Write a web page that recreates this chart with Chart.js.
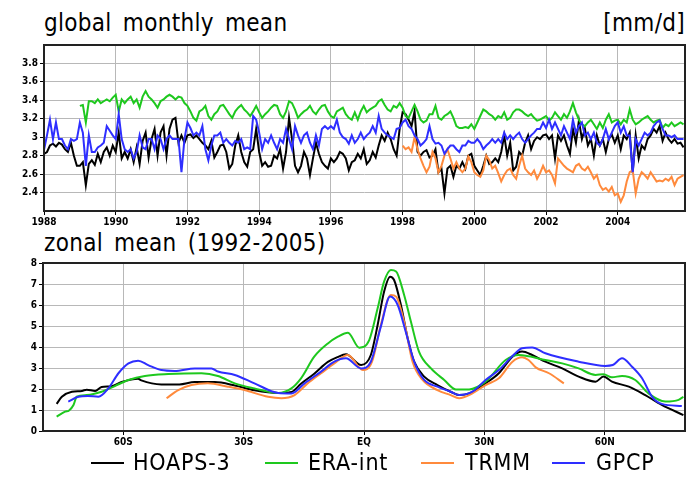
<!DOCTYPE html>
<html><head><meta charset="utf-8">
<script src="https://cdn.jsdelivr.net/npm/chart.js@4"></script>
<style>
html,body{margin:0;padding:0;background:#fff;width:695px;height:484px;overflow:hidden;position:relative;font-family:'Liberation Sans Narrow','DejaVu Sans Condensed','Liberation Sans',sans-serif;}
canvas{position:absolute;left:0;}
.t{position:absolute;font-size:24px;color:#000;white-space:nowrap;word-spacing:4px;letter-spacing:0.3px;line-height:1;}
.lg{position:absolute;top:451px;font-size:23px;white-space:nowrap;letter-spacing:0.8px;line-height:1;}
.sw{position:absolute;top:462px;height:0;border-top:2px solid #000;}
</style></head><body>
<div class="t" style="left:44px;top:11px;">global monthly mean</div>
<div class="t" style="right:10px;top:11px;">[mm/d]</div>
<div class="t" style="left:44px;top:231px;">zonal mean (1992-2005)</div>
<canvas id="c1" width="695" height="230" style="top:0"></canvas>
<canvas id="c2" width="695" height="220" style="top:230px"></canvas>
<div class="sw" style="left:91px;width:33px;border-color:#000"></div><div class="lg" style="left:133px">HOAPS-3</div>
<div class="sw" style="left:265px;width:33px;border-color:#1ec81e"></div><div class="lg" style="left:308px">ERA-int</div>
<div class="sw" style="left:421px;width:33px;border-color:#ff8a3c"></div><div class="lg" style="left:465px">TRMM</div>
<div class="sw" style="left:552px;width:33px;border-color:#2e2eff"></div><div class="lg" style="left:596px">GPCP</div>
<script>
// ---------- top panel: global monthly mean (mm/d), monthly from start year ----------
const seriesNames = ['HOAPS-3','ERA-int','TRMM','GPCP'];
const seriesColors = ['#000000','#1ec81e','#ff8a3c','#2e2eff'];
const yearTicks = [1988,1990,1992,1994,1996,1998,2000,2002,2004];
const monthlyYTicks = [2.4,2.6,2.8,3.0,3.2,3.4,3.6,3.8];

const hoapsStart = 1988;
const hoaps = [
2.82,2.84,2.91,2.93,2.90,2.94,2.92,2.87,2.84,2.94,2.80,2.69,
2.69,2.73,2.48,2.71,2.75,2.70,2.82,2.73,2.84,2.89,2.80,2.91,
2.84,3.05,2.77,2.84,2.77,2.87,2.73,2.89,2.71,2.96,3.05,2.78,
2.98,3.09,2.80,3.05,3.12,2.80,3.09,3.19,3.21,2.94,3.02,2.94,
3.02,3.03,2.99,3.02,2.98,2.94,2.91,2.87,2.96,2.78,2.84,2.91,
2.92,2.84,2.66,2.71,2.91,3.02,2.84,2.73,2.68,2.84,2.87,3.09,
2.84,2.69,2.73,2.68,2.69,2.80,2.77,2.87,2.66,2.84,3.21,2.98,
2.69,2.62,2.69,2.84,2.77,2.59,2.77,2.94,2.82,2.73,2.69,2.66,
2.77,2.73,2.77,2.84,2.82,2.77,2.64,2.73,2.75,2.82,2.77,2.87,
2.71,2.75,2.84,2.78,2.91,3.02,2.96,3.05,2.98,2.87,2.80,3.09,
3.27,3.25,3.19,3.12,3.28,2.84,2.80,2.84,2.86,2.78,2.80,2.87,
2.62,2.66,2.39,2.66,2.69,2.57,2.69,2.66,2.73,2.66,2.80,2.82,
2.69,2.64,2.59,2.69,2.80,2.71,2.73,2.77,2.73,2.84,3.02,2.80,
2.94,2.64,2.68,2.84,2.80,2.94,3.02,2.87,2.96,3.00,2.98,3.02,
3.03,2.98,3.02,2.77,3.02,2.96,3.02,2.91,2.82,3.09,2.94,3.18,
2.98,3.09,2.91,2.98,2.80,3.02,2.91,2.98,2.84,2.98,3.03,2.94,
3.02,2.87,3.02,2.98,3.05,2.61,3.02,2.77,2.91,2.87,2.98,3.02,
3.09,3.05,3.12,2.96,3.05,2.98,2.94,2.98,2.93,2.94,2.89];

const eraStart = 1989;
const era = [
3.34,3.35,3.16,3.39,3.39,3.37,3.41,3.37,3.39,3.41,3.39,3.43,
3.46,3.28,3.41,3.37,3.41,3.44,3.37,3.41,3.32,3.44,3.50,3.44,
3.41,3.37,3.32,3.39,3.41,3.44,3.46,3.44,3.41,3.44,3.43,3.37,
3.34,3.28,3.21,3.18,3.28,3.30,3.34,3.23,3.19,3.25,3.28,3.34,
3.35,3.30,3.25,3.21,3.28,3.32,3.35,3.30,3.27,3.23,3.28,3.34,
3.27,3.21,3.25,3.28,3.32,3.35,3.34,3.25,3.21,3.28,3.39,3.37,
3.30,3.21,3.25,3.28,3.30,3.34,3.28,3.25,3.30,3.34,3.35,3.28,
3.23,3.21,3.28,3.30,3.32,3.25,3.21,3.19,3.27,3.19,3.28,3.34,
3.27,3.30,3.32,3.34,3.39,3.41,3.35,3.30,3.28,3.34,3.32,3.37,
3.32,3.23,3.21,3.28,3.35,3.28,3.19,3.16,3.18,3.25,3.25,3.34,
3.21,3.19,3.23,3.25,3.28,3.21,3.12,3.10,3.10,3.11,3.10,3.14,
3.09,3.16,3.23,3.30,3.28,3.25,3.23,3.19,3.23,3.21,3.27,3.19,
3.21,3.27,3.30,3.30,3.28,3.25,3.23,3.25,3.21,3.18,3.19,3.21,
3.23,3.18,3.21,3.27,3.23,3.19,3.25,3.21,3.28,3.37,3.27,3.19,
3.14,3.12,3.16,3.19,3.14,3.09,3.16,3.10,3.19,3.25,3.16,3.18,
3.19,3.14,3.19,3.16,3.30,3.19,3.14,3.16,3.19,3.21,3.23,3.19,
3.16,3.18,3.19,3.10,3.14,3.12,3.16,3.12,3.14,3.16,3.14];

const trmmStart = 1998;
const trmm = [
2.91,2.87,2.89,2.84,3.00,2.87,2.77,2.69,2.62,2.68,2.84,2.77,
2.62,2.69,2.80,2.87,2.77,2.66,2.73,2.66,2.62,2.66,2.79,2.73,
2.62,2.59,2.57,2.64,2.80,2.75,2.66,2.69,2.61,2.52,2.59,2.64,
2.66,2.59,2.55,2.69,2.80,2.66,2.62,2.59,2.64,2.55,2.61,2.69,
2.62,2.64,2.59,2.50,2.77,2.73,2.69,2.66,2.64,2.62,2.69,2.71,
2.66,2.64,2.68,2.62,2.55,2.59,2.48,2.43,2.45,2.41,2.46,2.37,
2.39,2.30,2.37,2.52,2.62,2.64,2.39,2.55,2.62,2.59,2.55,2.62,
2.57,2.52,2.53,2.52,2.55,2.53,2.57,2.48,2.55,2.57,2.59];

const gpcpStart = 1988;
const gpcp = [
2.86,3.02,3.19,2.98,3.16,2.98,2.98,2.91,2.87,2.98,2.96,2.98,
3.16,3.05,2.69,3.02,2.84,2.84,2.89,2.91,2.94,3.12,3.07,3.02,
2.98,3.25,2.98,2.87,2.84,2.87,2.77,2.84,3.02,2.89,2.87,2.98,
2.98,2.87,3.02,2.98,2.87,2.98,3.02,2.98,2.98,2.98,2.62,2.98,
3.16,3.10,3.02,3.05,3.02,3.12,2.87,2.75,2.91,3.02,3.02,3.05,
2.94,2.98,2.94,2.91,2.96,2.94,2.98,2.87,2.89,2.87,3.23,3.19,
3.05,2.87,2.98,2.94,3.02,2.94,2.87,2.98,2.94,3.09,2.98,2.87,
3.12,3.02,2.94,3.02,3.05,2.94,2.87,3.02,2.91,3.09,3.12,3.09,
3.12,3.09,3.19,3.05,3.00,2.98,2.93,3.02,2.94,2.98,3.05,2.98,
3.02,3.05,3.12,3.05,3.23,3.09,3.05,3.02,3.00,2.98,3.09,3.10,
3.16,3.19,3.12,3.09,3.02,2.98,2.91,2.94,2.98,3.12,2.98,2.93,
2.94,2.91,2.82,2.87,2.91,2.91,2.87,2.84,2.91,2.91,2.96,2.94,
2.94,2.98,2.94,2.87,2.91,2.94,2.98,2.94,2.98,2.94,3.05,2.98,
3.02,2.98,3.02,3.05,2.98,2.94,2.98,3.02,3.05,3.09,3.09,3.16,
3.10,3.19,3.09,3.16,3.09,3.02,3.12,3.05,2.98,3.19,3.05,3.12,
3.16,3.02,3.05,2.98,3.05,2.94,2.91,2.98,3.09,2.98,3.05,3.12,
3.16,3.05,3.12,3.02,3.02,2.62,2.98,2.91,2.98,3.05,3.02,3.05,
3.12,3.16,3.18,3.09,3.02,3.02,3.00,3.02,2.98,2.98,2.98];

// ---------- bottom panel: zonal mean 1992-2005 ----------
const latTicks = [-60,-30,0,30,60];
const latLabels = ['60S','30S','EQ','30N','60N'];
const zonalYTicks = [0,1,2,3,4,5,6,7,8];

const hoapsLat = [-76.6,-75.3,-72.8,-70.3,-69.1,-67,-65.4,-62.9,-60.4,-56.3,-55.5,-50.5,-46,-42.2,-37.2,-32.2,-27.3,-21.4,-18.1,-15.7,-12.4,-9.0,-6.6,-4.5,-0.7,1.7,3.4,5.0,6.5,7.5,9.2,10.9,12.5,15.0,18.3,21.6,23.7,26.2,30.3,33.6,37.0,39.4,41.9,45.2,49.4,53.5,57.7,59.7,61.8,66,70.1,74.2,79.6];
const hoapsZon = [1.29,1.63,1.87,1.91,1.97,1.91,2.10,2.13,2.33,2.49,2.41,2.22,2.22,2.33,2.33,2.17,1.94,1.81,1.86,2.25,2.73,3.29,3.52,3.65,3.14,3.62,5.05,6.63,7.35,7.19,6.0,4.41,3.30,2.59,2.19,1.87,1.71,1.79,2.27,2.75,3.54,3.78,3.62,3.30,2.98,2.59,2.35,2.59,2.35,2.11,1.71,1.24,0.76];
const eraLat = [-76.6,-74.5,-73.5,-72.4,-71.6,-69.1,-65.4,-62.1,-58.7,-54.6,-48.8,-40.5,-36.4,-32.2,-27.3,-21.4,-18.1,-15.7,-12.4,-9.0,-6.5,-4.0,-1.2,1.3,3.4,5.0,6.7,8.0,10.0,11.7,13.7,16.7,20.0,22.9,26.2,30.3,35.3,38.6,41.0,45.2,49.4,53.5,57.7,59.7,61.8,64.3,67.6,70.9,75.1,78.4,79.6];
const eraZon = [0.68,0.92,0.98,1.24,1.63,1.71,1.87,2.14,2.43,2.62,2.71,2.75,2.62,2.27,2.03,1.81,2.03,2.51,3.54,4.17,4.49,4.68,3.97,4.33,5.84,7.11,7.67,7.60,6.48,5.20,3.78,2.98,2.43,1.98,1.98,2.35,3.38,3.62,3.56,3.38,3.22,2.98,2.67,2.70,2.56,2.62,2.43,1.79,1.40,1.48,1.63];
const trmmLat = [-49.2,-46.3,-43.0,-38.9,-33.9,-29.8,-23.9,-20.6,-17.3,-14,-10.7,-7.4,-4.0,-0.3,2.0,4.2,6.7,8.0,10.0,12.1,14.6,18.3,21.6,23.7,27,30.3,33.6,37,39.4,41,42.8,46.1,49.8];
const trmmZon = [1.56,1.95,2.19,2.27,2.11,1.95,1.63,1.56,1.71,2.27,2.75,3.22,3.62,2.90,3.30,5.05,6.48,6.40,5.20,3.30,2.43,1.95,1.71,1.56,1.79,2.19,2.51,3.30,3.51,3.38,3.03,2.75,2.27];
const gpcpLat = [-73.7,-71.2,-68.8,-66.2,-63.7,-61.2,-58.7,-56.3,-53.8,-50.5,-47.2,-42.2,-38,-36.4,-32.2,-27.3,-21.4,-18.1,-14.8,-10.7,-7.4,-4.5,-0.7,1.7,4.2,6.5,8.4,10.4,12.5,15.0,18.3,21.6,23.7,27.0,30.3,33.6,37.0,39.4,41.9,45.2,53.5,60.1,62,64.3,66.8,69.3,71.8,74.2,79.2];
const gpcpZon = [1.40,1.63,1.67,1.63,2.03,2.75,3.22,3.35,3.14,2.90,2.86,2.98,2.98,2.83,2.67,2.27,1.81,1.79,2.27,2.83,3.30,3.46,2.98,3.30,4.97,6.40,6.00,4.73,3.30,2.43,2.11,1.87,1.71,1.87,2.43,2.90,3.57,3.94,3.98,3.70,3.30,3.10,3.14,3.46,3.06,2.51,1.63,1.29,1.19];

// ---------- build ----------
function monthly(arr, startYear){ return arr.map((v,i)=>({x:startYear + i/12, y:v})); }
function zonal(lat, val){ return lat.map((l,i)=>({x:l, y:val[i]})); }

const frame = {
  id:'frame',
  afterDatasetsDraw(chart){
    const {ctx, chartArea:a} = chart;
    ctx.save(); ctx.strokeStyle='#222'; ctx.lineWidth=2;
    ctx.strokeRect(a.left, a.top, a.right-a.left, a.bottom-a.top);
    ctx.restore();
  }
};
const tickFont = {family:"'Liberation Sans Narrow','DejaVu Sans Condensed',sans-serif", size:10, weight:'bold'};
const gridCommon = {color:'#b8b8b8', borderDash:[1,3], lineWidth:1, tickColor:'#000', tickLength:4, tickBorderDash:[]};

function lineDS(label, data, color, extra){
  return Object.assign({label, data, borderColor:color, backgroundColor:color, borderWidth:2, pointRadius:0, fill:false, tension:0}, extra||{});
}

new Chart(document.getElementById('c1'), {
  type:'line',
  data:{datasets:[
    lineDS(seriesNames[3], monthly(gpcp,gpcpStart), seriesColors[3]),
    lineDS(seriesNames[1], monthly(era,eraStart), seriesColors[1]),
    lineDS(seriesNames[2], monthly(trmm,trmmStart), seriesColors[2]),
    lineDS(seriesNames[0], monthly(hoaps,hoapsStart), seriesColors[0])
  ]},
  options:{
    responsive:false, animation:false, devicePixelRatio:1,
    layout:{padding:{left:0,right:10,top:45,bottom:0}},
    plugins:{legend:{display:false}, tooltip:{enabled:false}},
    scales:{
      x:{type:'linear', min:1988, max:1988+214.5/12,
        afterBuildTicks(s){ s.ticks = yearTicks.map(v=>({value:v})); },
        afterFit(s){ s.height = 19; },
        ticks:{font:tickFont, color:'#000', maxRotation:0, padding:1, callback:v=>String(v)},
        grid:gridCommon, border:{display:false}},
      y:{type:'linear', min:2.2, max:4.0,
        afterBuildTicks(s){ s.ticks = monthlyYTicks.map(v=>({value:v})); },
        afterFit(s){ s.width = 44; },
        ticks:{font:tickFont, color:'#000', padding:2, callback:v=> (Math.abs(v-3)<1e-6 ? '3' : v.toFixed(1))},
        grid:gridCommon, border:{display:false}}
    }
  },
  plugins:[frame]
});

new Chart(document.getElementById('c2'), {
  type:'line',
  data:{datasets:[
    lineDS(seriesNames[3], zonal(gpcpLat,gpcpZon), seriesColors[3], {cubicInterpolationMode:'monotone'}),
    lineDS(seriesNames[1], zonal(eraLat,eraZon), seriesColors[1], {cubicInterpolationMode:'monotone'}),
    lineDS(seriesNames[2], zonal(trmmLat,trmmZon), seriesColors[2], {cubicInterpolationMode:'monotone'}),
    lineDS(seriesNames[0], zonal(hoapsLat,hoapsZon), seriesColors[0], {cubicInterpolationMode:'monotone'})
  ]},
  options:{
    responsive:false, animation:false, devicePixelRatio:1,
    layout:{padding:{left:0,right:10,top:33,bottom:0}},
    plugins:{legend:{display:false}, tooltip:{enabled:false}},
    scales:{
      x:{type:'linear', min:-80, max:80,
        afterBuildTicks(s){ s.ticks = latTicks.map(v=>({value:v})); },
        afterFit(s){ s.height = 19; },
        ticks:{font:tickFont, color:'#000', maxRotation:0, padding:1, callback:v=>latLabels[latTicks.indexOf(v)]},
        grid:gridCommon, border:{display:false}},
      y:{type:'linear', min:0, max:8,
        afterBuildTicks(s){ s.ticks = zonalYTicks.map(v=>({value:v})); },
        afterFit(s){ s.width = 43; },
        ticks:{font:tickFont, color:'#000', padding:2, callback:v=>String(v)},
        grid:gridCommon, border:{display:false}}
    }
  },
  plugins:[frame]
});
</script>
</body></html>
